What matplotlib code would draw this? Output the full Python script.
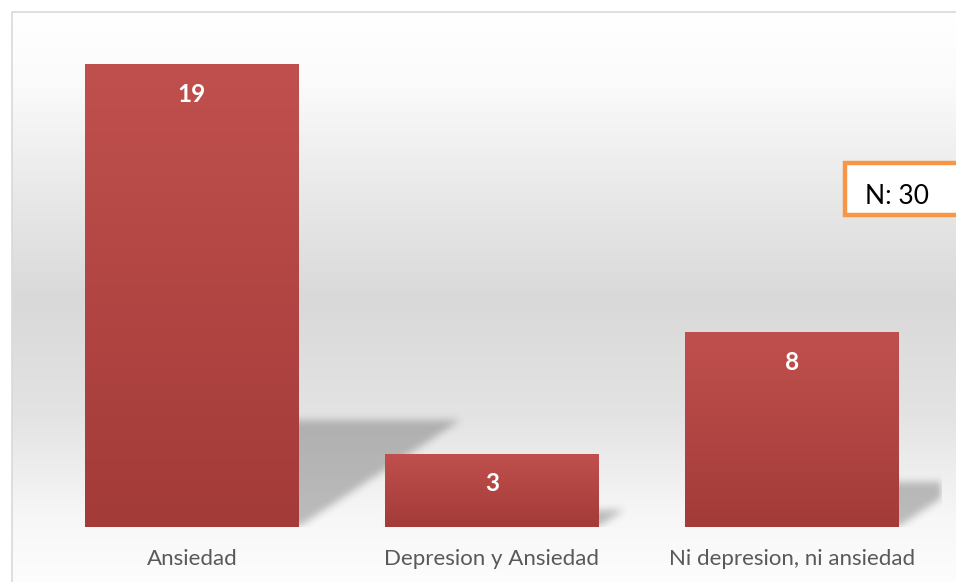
import numpy as np
import matplotlib.pyplot as plt
from matplotlib.colors import LinearSegmentedColormap
from matplotlib.patches import Rectangle

categorias = ['Ansiedad', 'Depresion y Ansiedad', 'Ni depresion, ni ansiedad']
valores = [19, 3, 8]
texto_n = 'N: 30'

plt.rcParams['font.family'] = ['Lato', 'DejaVu Sans']

W, H = 956, 582
fig = plt.figure(figsize=(W / 100, H / 100), dpi=100)
fig.patch.set_facecolor('white')

# fondo con degradado vertical (dentro del marco del grafico)
bg = fig.add_axes([0, 0, 1, 1], zorder=0)
bg.set_xlim(0, W)
bg.set_ylim(H, 0)
bg.axis('off')
bg_cmap = LinearSegmentedColormap.from_list('bg', [
    (0.0, '#ffffff'), (0.12, '#fbfbfb'), (0.3, '#eaeaea'), (0.5, '#d9d9d9'),
    (0.7, '#e3e3e3'), (0.88, '#f7f7f7'), (1.0, '#fdfdfd')])
grad = np.linspace(0, 1, 256).reshape(-1, 1)
bg.imshow(grad, cmap=bg_cmap, extent=[12, W + 5, H + 5, 12], aspect='auto')
bg.plot([12, 12, W + 5], [H + 5, 12, 12], color='#d9d9d9', lw=1.2)

# ejes principales
ax = fig.add_axes([42 / W, (H - 527) / H, 900 / W, 487 / H], zorder=1)
ax.patch.set_alpha(0)
ax.set_xlim(-0.5, 2.5)
ax.set_ylim(0, 20)
x = np.arange(len(valores))
ancho = 0.713

# sombras inclinadas detras de cada barra
nx, ny = 900, 487
gx = np.linspace(-0.5, 2.5, nx)
gy = np.linspace(0, 20, ny)
XX, YY = np.meshgrid(gx, gy)
mask = np.zeros_like(XX)
inclin = 0.123
for xi, v in zip(x, valores):
    x0, x1 = xi - ancho / 2, xi + ancho / 2
    hs = 0.23 * v
    m = (YY >= 0) & (YY <= hs) & (XX >= x0 + inclin * YY) & (XX <= x1 + inclin * YY)
    mask[m] = 1.0
k = np.ones(9) / 9
for _ in range(2):
    mask = np.apply_along_axis(lambda r: np.convolve(r, k, mode='same'), 1, mask)
    mask = np.apply_along_axis(lambda c: np.convolve(c, k, mode='same'), 0, mask)
sombra = np.zeros((ny, nx, 4))
sombra[..., :3] = 0.35
sombra[..., 3] = mask * 0.38
ax.imshow(sombra, extent=[-0.5, 2.5, 0, 20], origin='lower', aspect='auto', zorder=1)

# barras con degradado rojo
bar_cmap = LinearSegmentedColormap.from_list('bar', ['#a33b39', '#c0504d'])
barras = ax.bar(x, valores, width=ancho, color='none', zorder=2)
for b, v in zip(barras, valores):
    x0 = b.get_x()
    img = ax.imshow(np.linspace(0, 1, 256).reshape(-1, 1), cmap=bar_cmap, origin='lower',
                    extent=[x0, x0 + b.get_width(), 0, v], aspect='auto', zorder=3)
    img.set_clip_path(b)
    ax.text(b.get_x() + b.get_width() / 2, v - 1.23, str(v), ha='center', va='center',
            color='white', fontsize=17.5, fontweight='bold', zorder=4)

ax.set_xlim(-0.5, 2.5)
ax.set_ylim(0, 20)
ax.set_xticks(x)
ax.set_xticklabels(categorias, fontsize=16, color='#595959')
ax.tick_params(axis='x', length=0, pad=16)
ax.set_yticks([])
for s in ax.spines.values():
    s.set_visible(False)

# recuadro N
fig.patches.append(Rectangle((845 / W, (H - 215) / H), 140 / W, 52 / H, transform=fig.transFigure,
                             facecolor='white', edgecolor='#f79646', lw=3.2, zorder=5))
fig.text(865 / W, (H - 196) / H, texto_n, fontsize=19, color='black', va='center', zorder=6)

fig.savefig('out.png', dpi=100)
